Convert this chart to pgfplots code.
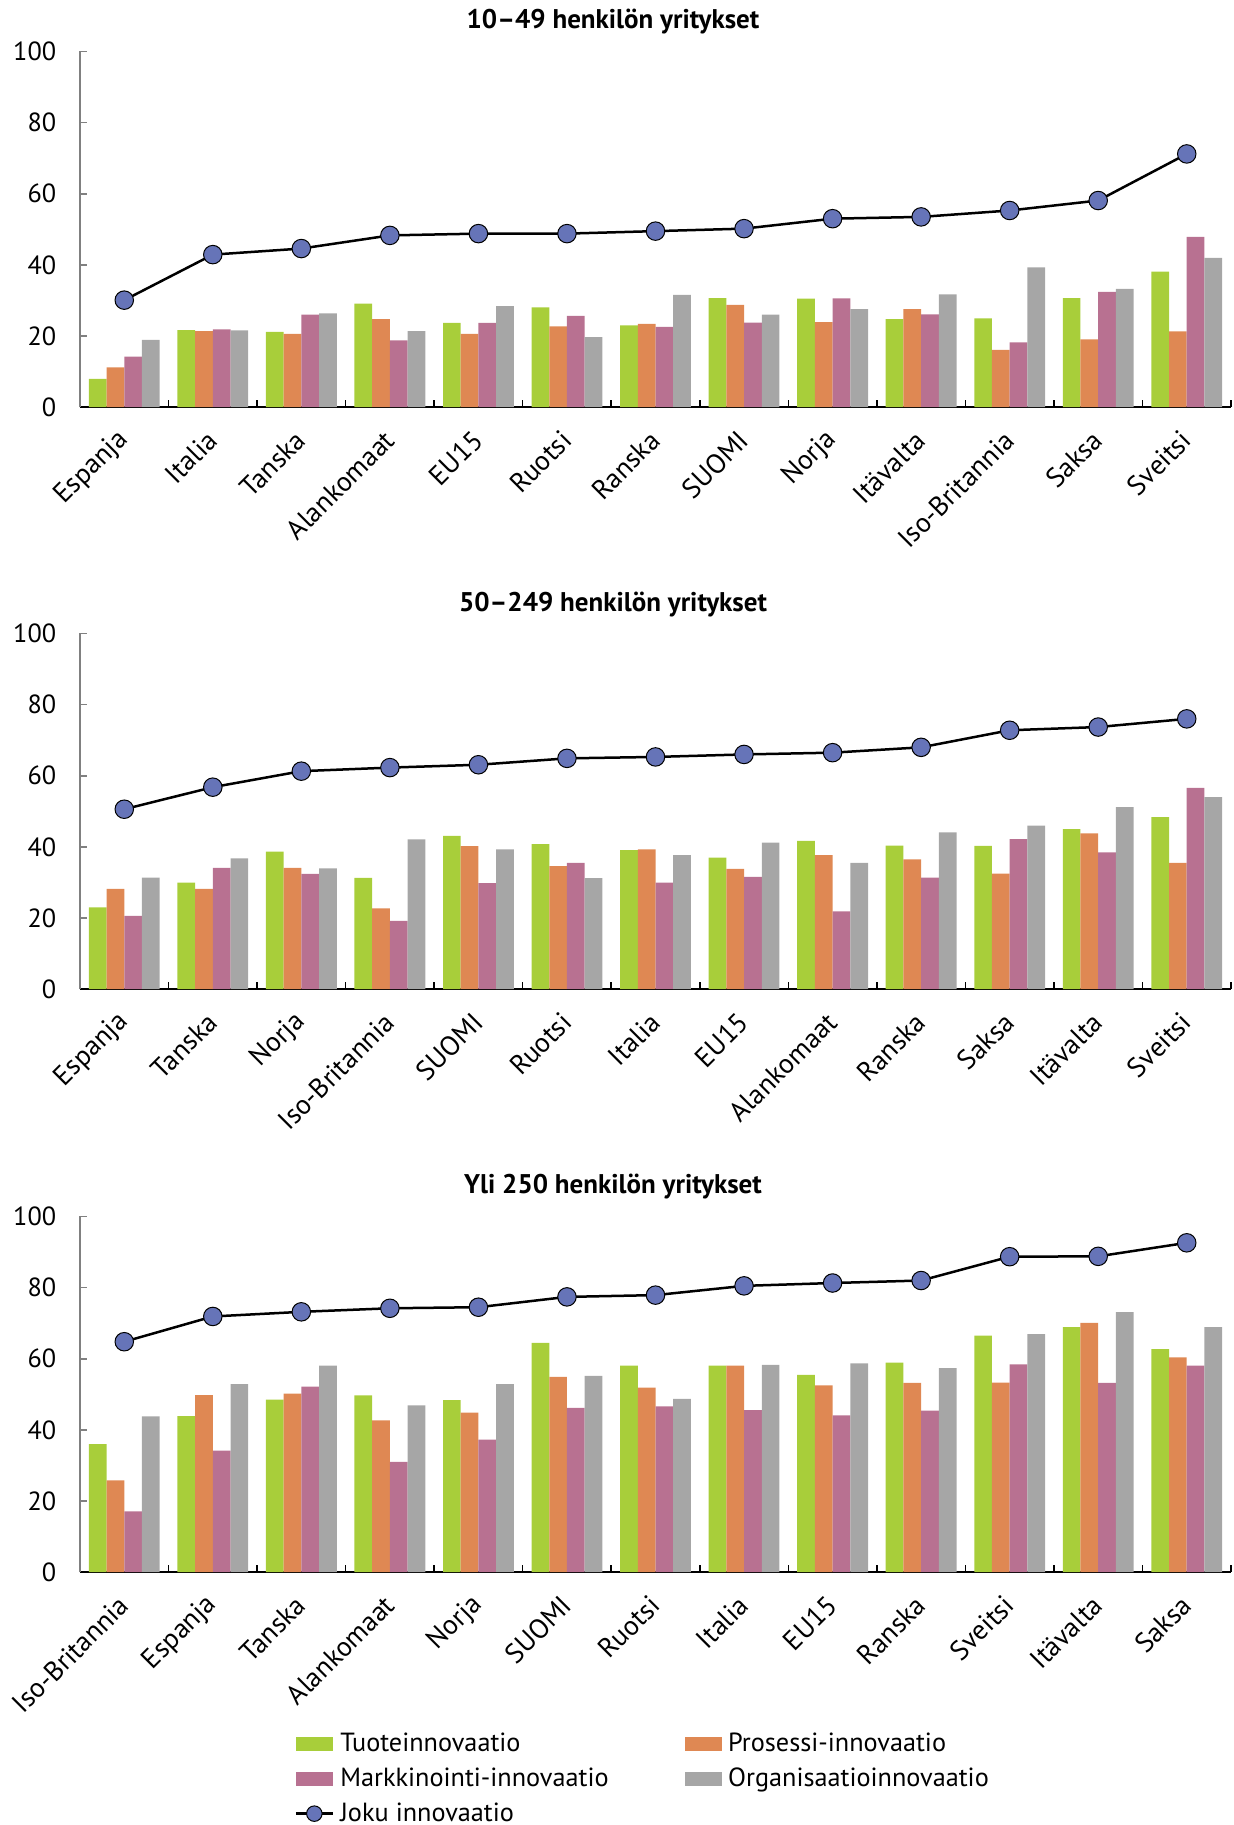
\documentclass[border=0pt]{standalone}
\usepackage{fontspec}
\setmainfont{PT Sans}
\usepackage{pgfplots}
\pgfplotsset{compat=1.18}
\usepackage{pgfplotstable}

\definecolor{cg}{HTML}{A8CE3A}
\definecolor{co}{HTML}{DF8853}
\definecolor{cp}{HTML}{B87191}
\definecolor{cgr}{HTML}{A6A6A6}
\definecolor{cb}{HTML}{6674B8}

% Panel 1: 10-49
\pgfplotstableread{
x g o p r j
0 8.0 11.2 14.2 18.9 30.1
1 21.7 21.4 21.9 21.6 42.9
2 21.2 20.6 26.0 26.4 44.6
3 29.1 24.8 18.8 21.4 48.3
4 23.7 20.6 23.7 28.4 48.8
5 28.1 22.7 25.7 19.7 48.8
6 23.0 23.4 22.6 31.6 49.5
7 30.7 28.8 23.8 26.0 50.2
8 30.5 23.9 30.6 27.6 53.0
9 24.8 27.6 26.1 31.7 53.5
10 25.0 16.1 18.2 39.3 55.3
11 30.7 19.1 32.4 33.3 58.1
12 38.1 21.3 47.9 42.0 71.2
}\dataA
% Panel 2: 50-249
\pgfplotstableread{
x g o p r j
0 23.0 28.2 20.6 31.4 50.6
1 30.0 28.2 34.1 36.8 56.8
2 38.7 34.1 32.4 34.0 61.3
3 31.3 22.7 19.2 42.1 62.3
4 43.1 40.2 29.8 39.3 63.1
5 40.8 34.6 35.5 31.2 64.9
6 39.1 39.3 30.0 37.7 65.3
7 37.0 33.8 31.6 41.2 66.0
8 41.7 37.7 21.9 35.5 66.5
9 40.4 36.5 31.4 44.1 68.0
10 40.3 32.5 42.2 46.0 72.8
11 45.0 43.8 38.5 51.2 73.7
12 48.4 35.5 56.6 54.0 76.0
}\dataB
% Panel 3: yli 250
\pgfplotstableread{
x g o p r j
0 36.0 25.8 17.1 43.8 64.8
1 43.9 49.8 34.2 52.9 71.9
2 48.5 50.2 52.2 58.1 73.2
3 49.7 42.7 31.0 46.9 74.2
4 48.4 44.9 37.3 52.9 74.5
5 64.5 54.9 46.2 55.2 77.4
6 58.1 51.9 46.6 48.7 77.9
7 58.1 58.1 45.6 58.3 80.5
8 55.5 52.5 44.1 58.7 81.3
9 58.9 53.2 45.4 57.4 82.0
10 66.5 53.3 58.4 66.9 88.7
11 68.9 70.1 53.2 73.1 88.8
12 62.7 60.4 58.1 68.9 92.6
}\dataC

\pgfplotsset{
 panel/.style={
  scale only axis, width=460.4pt, height=142.3pt,
  xmin=-0.5, xmax=12.5, ymin=0, ymax=100,
  axis x line=bottom, axis y line=left,
  x axis line style={-, black, line width=1pt},
  y axis line style={-, draw=gray, line width=0.6pt},
  tick align=inside,
  major tick length=3pt,
  ytick={0,20,...,100},
  ytick style={gray, line width=0.6pt},
  yticklabel style={font=\fontsize{10.5}{12}\selectfont, xshift=-6pt},
  /pgf/number format/assume math mode=true,
  xtick={-0.5,0.5,1.5,2.5,3.5,4.5,5.5,6.5,7.5,8.5,9.5,10.5,11.5,12.5},
  xticklabels={},
  xtick style={black, line width=0.6pt},
  extra x ticks={0,1,2,3,4,5,6,7,8,9,10,11,12},
  extra x tick style={major tick length=0pt,
    xticklabel style={rotate=45, anchor=east, font=\fontsize{11}{13}\selectfont, xshift=-4.7pt, yshift=-8pt}},
 },
 gbar/.style={ybar, bar width=0.2, bar shift=-0.3, fill=cg, draw=none,
   legend image code/.code={\fill[cg] (0pt,-2.85pt) rectangle (14.8pt,2.85pt);}},
 obar/.style={ybar, bar width=0.2, bar shift=-0.1, fill=co, draw=none,
   legend image code/.code={\fill[co] (0pt,-2.85pt) rectangle (14.8pt,2.85pt);}},
 pbar/.style={ybar, bar width=0.2, bar shift=0.1, fill=cp, draw=none,
   legend image code/.code={\fill[cp] (0pt,-2.85pt) rectangle (14.8pt,2.85pt);}},
 rbar/.style={ybar, bar width=0.2, bar shift=0.3, fill=cgr, draw=none,
   legend image code/.code={\fill[cgr] (0pt,-2.85pt) rectangle (14.8pt,2.85pt);}},
 jline/.style={black, line width=1pt, mark=*, mark size=3.7pt,
   mark options={fill=cb, draw=black, line width=0.4pt},
   legend image code/.code={
     \draw[black, line width=1pt] (0pt,0pt) -- (14.8pt,0pt);
     \filldraw[fill=cb, draw=black, line width=0.4pt] (7.4pt,0pt) circle (3.1pt);}},
}

\begin{document}
\begin{tikzpicture}
\useasboundingbox (0,0) rectangle (493.2pt,730pt);

\begin{axis}[panel, at={(32pt,567.1pt)}, anchor=south west,
  extra x tick labels={Espanja,Italia,Tanska,Alankomaat,EU15,Ruotsi,Ranska,SUOMI,Norja,Itävalta,Iso-Britannia,Saksa,Sveitsi}]
\addplot[gbar] table[x=x,y=g]{\dataA};
\addplot[obar] table[x=x,y=o]{\dataA};
\addplot[pbar] table[x=x,y=p]{\dataA};
\addplot[rbar] table[x=x,y=r]{\dataA};
\addplot[jline] table[x=x,y=j]{\dataA};
\end{axis}

\begin{axis}[panel, at={(32pt,334.3pt)}, anchor=south west,
  extra x tick labels={Espanja,Tanska,Norja,Iso-Britannia,SUOMI,Ruotsi,Italia,EU15,Alankomaat,Ranska,Saksa,Itävalta,Sveitsi}]
\addplot[gbar] table[x=x,y=g]{\dataB};
\addplot[obar] table[x=x,y=o]{\dataB};
\addplot[pbar] table[x=x,y=p]{\dataB};
\addplot[rbar] table[x=x,y=r]{\dataB};
\addplot[jline] table[x=x,y=j]{\dataB};
\end{axis}

\begin{axis}[panel, at={(32pt,101.1pt)}, anchor=south west,
  extra x tick labels={Iso-Britannia,Espanja,Tanska,Alankomaat,Norja,SUOMI,Ruotsi,Italia,EU15,Ranska,Sveitsi,Itävalta,Saksa},
  legend columns=2,
  legend style={at={(0.186,-0.444)}, anchor=north west, draw=none, fill=none,
    inner sep=0pt, font=\fontsize{10.5}{12.5}\selectfont,
    nodes={inner xsep=2.5pt, inner ysep=1pt},
    row sep=2.9pt,
    /tikz/every even column/.append style={column sep=28pt}},
  legend cell align=left]
\addplot[gbar] table[x=x,y=g]{\dataC};
\addlegendentry{Tuoteinnovaatio}
\addplot[obar] table[x=x,y=o]{\dataC};
\addlegendentry{Prosessi-innovaatio}
\addplot[pbar] table[x=x,y=p]{\dataC};
\addlegendentry{Markkinointi-innovaatio}
\addplot[rbar] table[x=x,y=r]{\dataC};
\addlegendentry{Organisaatioinnovaatio}
\addplot[jline] table[x=x,y=j]{\dataC};
\addlegendentry{Joku innovaatio}
\end{axis}

\node[font=\bfseries\fontsize{10.8}{12}\selectfont] at (245.2pt,721.5pt) {10–49 henkilön yritykset};
\node[font=\bfseries\fontsize{10.8}{12}\selectfont] at (245.2pt,488.3pt) {50–249 henkilön yritykset};
\node[font=\bfseries\fontsize{10.8}{12}\selectfont] at (245.2pt,255.5pt) {Yli 250 henkilön yritykset};
\end{tikzpicture}
\end{document}
